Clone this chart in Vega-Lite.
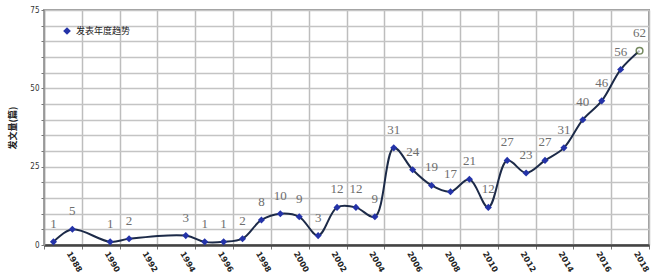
{
  "$schema": "https://vega.github.io/schema/vega-lite/v6.json",
  "width": 605,
  "height": 235,
  "autosize": {"type": "none"},
  "padding": {"left": 44, "top": 10, "right": 8, "bottom": 34},
  "background": "white",
  "config": {"view": {"stroke": "#9a9a9a", "strokeWidth": 2}},
  "data": {"values": [
    {"year": 1986, "count": 1},
    {"year": 1987, "count": 5},
    {"year": 1989, "count": 1},
    {"year": 1990, "count": 2},
    {"year": 1993, "count": 3},
    {"year": 1994, "count": 1},
    {"year": 1995, "count": 1},
    {"year": 1996, "count": 2},
    {"year": 1997, "count": 8},
    {"year": 1998, "count": 10},
    {"year": 1999, "count": 9},
    {"year": 2000, "count": 3},
    {"year": 2001, "count": 12},
    {"year": 2002, "count": 12},
    {"year": 2003, "count": 9},
    {"year": 2004, "count": 31},
    {"year": 2005, "count": 24},
    {"year": 2006, "count": 19},
    {"year": 2007, "count": 17},
    {"year": 2008, "count": 21},
    {"year": 2009, "count": 12},
    {"year": 2010, "count": 27},
    {"year": 2011, "count": 23},
    {"year": 2012, "count": 27},
    {"year": 2013, "count": 31},
    {"year": 2014, "count": 40},
    {"year": 2015, "count": 46},
    {"year": 2016, "count": 56},
    {"year": 2017, "count": 62}
  ]},
  "encoding": {
    "x": {
      "field": "year", "type": "quantitative",
      "scale": {"domain": [1985.5, 2017.5], "nice": false, "zero": false},
      "axis": {
        "title": null,
        "values": [1985.5, 1987.5, 1989.5, 1991.5, 1993.5, 1995.5, 1997.5, 1999.5, 2001.5, 2003.5, 2005.5, 2007.5, 2009.5, 2011.5, 2013.5, 2015.5, 2017.5],
        "labelExpr": "datum.value < 1987 ? '' : '' + (datum.value + 0.5)",
        "labelAngle": 60,
        "labelAlign": "left",
        "labelBaseline": "middle",
        "labelFont": "DejaVu Sans",
        "labelFontSize": 8,
        "labelFontWeight": "bold",
        "labelColor": "#222",
        "labelPadding": 3,
        "labelOffset": -14,
        "grid": true,
        "gridColor": "#bdbdbd",
        "gridWidth": 1.5,
        "domainColor": "#444",
        "domainWidth": 2.5,
        "tickColor": "#777",
        "tickSize": 4
      }
    },
    "y": {
      "field": "count", "type": "quantitative",
      "scale": {"domain": [0, 75], "nice": false},
      "axis": {
        "title": "发文量(篇)",
        "titleFont": "Noto Sans CJK SC",
        "titleFontSize": 9,
        "titleFontWeight": "bold",
        "titleColor": "#222",
        "titlePadding": 12,
        "values": [0, 5, 10, 15, 20, 25, 30, 35, 40, 45, 50, 55, 60, 65, 70, 75],
        "labelExpr": "datum.value % 25 == 0 ? datum.label : ''",
        "labelFont": "DejaVu Sans Condensed",
        "labelFontSize": 8,
        "labelColor": "#333",
        "labelPadding": 2,
        "grid": true,
        "gridColor": "#c4c4c4",
        "gridWidth": 1.5,
        "domainColor": "#999",
        "domainWidth": 1.5,
        "tickColor": "#777",
        "tickSize": 3
      }
    }
  },
  "layer": [
    {
      "mark": {"type": "line", "interpolate": "catmull-rom", "color": "#1c2a48", "strokeWidth": 2}
    },
    {
      "transform": [{"filter": "datum.year < 2017"}],
      "mark": {"type": "point", "shape": "diamond", "filled": true, "size": 50, "opacity": 1},
      "encoding": {
        "color": {
          "datum": "发表年度趋势",
          "scale": {"range": ["#2433a8"]},
          "legend": {
            "title": null,
            "orient": "none",
            "legendX": 18,
            "legendY": 16,
            "symbolType": "diamond",
            "symbolSize": 60,
            "labelFont": "Noto Sans CJK SC",
            "labelFontSize": 9,
            "labelColor": "#222"
          }
        }
      }
    },
    {
      "transform": [{"filter": "datum.year == 2017"}],
      "mark": {"type": "point", "shape": "circle", "filled": true, "fill": "white", "stroke": "#3d5a1e", "strokeWidth": 1.5, "size": 45}
    },
    {
      "mark": {"type": "text", "dy": -18, "font": "Liberation Serif", "fontSize": 13, "color": "#6e6e6e"},
      "encoding": {"text": {"field": "count", "type": "quantitative"}}
    }
  ]
}
